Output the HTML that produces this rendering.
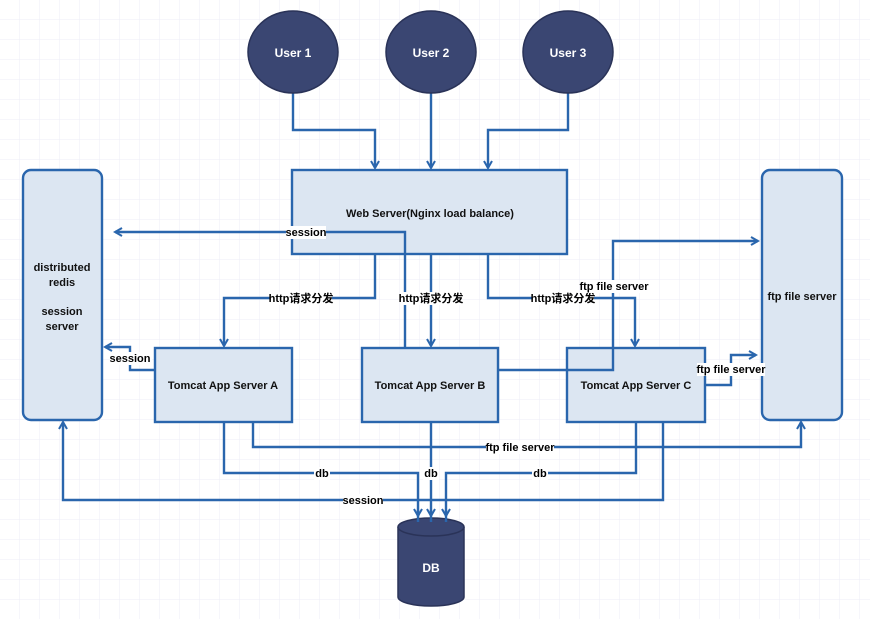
<!DOCTYPE html>
<html><head><meta charset="utf-8"><style>
html,body{margin:0;padding:0;background:#fff;}
svg{display:block;}
text{font-family:"Liberation Sans","Noto Sans CJK SC",sans-serif;font-weight:bold;}
</style></head><body>
<svg width="870" height="619" viewBox="0 0 870 619" xmlns="http://www.w3.org/2000/svg">
<defs>
<pattern id="g" width="20" height="20" patternUnits="userSpaceOnUse">
<path d="M20 0V20M0 20H20" stroke="#eceef7" stroke-width="1" fill="none"/>
</pattern>
<marker id="a" markerWidth="10" markerHeight="10" refX="8" refY="5" orient="auto" markerUnits="userSpaceOnUse">
<path d="M1 1L8 5L1 9" fill="none" stroke="#2a66ad" stroke-width="2"/>
</marker>
</defs>
<rect width="870" height="619" fill="#fff"/>
<rect width="870" height="619" fill="url(#g)"/>

<g fill="none" stroke="#2a66ad" stroke-width="2.4">
<path d="M293 92V130H375V168" marker-end="url(#a)"/>
<path d="M431 92V168" marker-end="url(#a)"/>
<path d="M568 92V130H488V168" marker-end="url(#a)"/>
<path d="M405 348V232H115" marker-end="url(#a)"/>
<path d="M375 254V298H224V346" marker-end="url(#a)"/>
<path d="M431 254V346" marker-end="url(#a)"/>
<path d="M488 254V298H635V346" marker-end="url(#a)"/>
<path d="M498 370H613V241H758" marker-end="url(#a)"/>
<path d="M705 385H731V355H756" marker-end="url(#a)"/>
<path d="M155 370H130V347H105" marker-end="url(#a)"/>
<path d="M224 422V473H418V516" marker-end="url(#a)"/>
<path d="M253 422V447H801V422" marker-end="url(#a)"/>
<path d="M431 422V516" marker-end="url(#a)"/>
<path d="M636 422V473H446V516" marker-end="url(#a)"/>
<path d="M663 422V500H63V422" marker-end="url(#a)"/>
</g>

<g fill="#3a4672" stroke="#2a3358" stroke-width="1.5">
<ellipse cx="293" cy="52" rx="45" ry="41"/>
<ellipse cx="431" cy="52" rx="45" ry="41"/>
<ellipse cx="568" cy="52" rx="45" ry="41"/>
</g>
<g fill="#fff" font-size="12" text-anchor="middle" style="font-weight:normal">
<text x="293" y="57">User 1</text>
<text x="431" y="57">User 2</text>
<text x="568" y="57">User 3</text>
</g>

<g fill="#dce6f2" stroke="#2a66ad" stroke-width="2.4">
<rect x="292" y="170" width="275" height="84"/>
<rect x="23" y="170" width="79" height="250" rx="8"/>
<rect x="762" y="170" width="80" height="250" rx="8"/>
<rect x="155" y="348" width="137" height="74"/>
<rect x="362" y="348" width="136" height="74"/>
<rect x="567" y="348" width="138" height="74"/>
</g>
<g fill="none" stroke="#2a66ad" stroke-width="2.4">
<path d="M405 254V232H292"/>
<path d="M567 370H613V348"/>
</g>

<path d="M398 527V597A33 9 0 0 0 464 597V527" fill="#3a4672" stroke="#2a3358" stroke-width="1.5"/>
<ellipse cx="431" cy="527" rx="33" ry="9" fill="#3a4672" stroke="#2a3358" stroke-width="1.5"/>
<g fill="none" stroke="#2a66ad" stroke-width="2.4">
<path d="M418 510V522M431 510V522M446 510V522"/>
</g>
<text x="431" y="572" fill="#fff" font-size="12" text-anchor="middle">DB</text>

<g fill="#111" font-size="11" text-anchor="middle">
<text x="430" y="217">Web Server(Nginx  load balance)</text>
<text x="62" y="271">distributed</text>
<text x="62" y="286">redis</text>
<text x="62" y="315">session</text>
<text x="62" y="330">server</text>
<text x="802" y="300">ftp file server</text>
<text x="223" y="389">Tomcat App Server A</text>
<text x="430" y="389">Tomcat App Server B</text>
<text x="636" y="389">Tomcat App Server C</text>
</g>

<g font-size="11" text-anchor="middle">
<rect x="286" y="226" width="40" height="13" fill="#fff"/><text x="306" y="236">session</text>
<rect x="270" y="292" width="62" height="13" fill="#fff"/><text x="301" y="302">http请求分发</text>
<rect x="400" y="292" width="62" height="13" fill="#fff"/><text x="431" y="302">http请求分发</text>
<rect x="532" y="292" width="62" height="13" fill="#fff"/><text x="563" y="302">http请求分发</text>
<rect x="580" y="280" width="68" height="13" fill="#fff"/><text x="614" y="290">ftp file server</text>
<rect x="697" y="363" width="68" height="13" fill="#fff"/><text x="731" y="373">ftp file server</text>
<rect x="110" y="352" width="42" height="13" fill="#fff"/><text x="130" y="362">session</text>
<rect x="486" y="441" width="68" height="13" fill="#fff"/><text x="520" y="451">ftp file server</text>
<rect x="314" y="467" width="16" height="13" fill="#fff"/><text x="322" y="477">db</text>
<rect x="423" y="467" width="16" height="13" fill="#fff"/><text x="431" y="477">db</text>
<rect x="532" y="467" width="16" height="13" fill="#fff"/><text x="540" y="477">db</text>
<rect x="343" y="494" width="40" height="13" fill="#fff"/><text x="363" y="504">session</text>
</g>
</svg>
</body></html>
